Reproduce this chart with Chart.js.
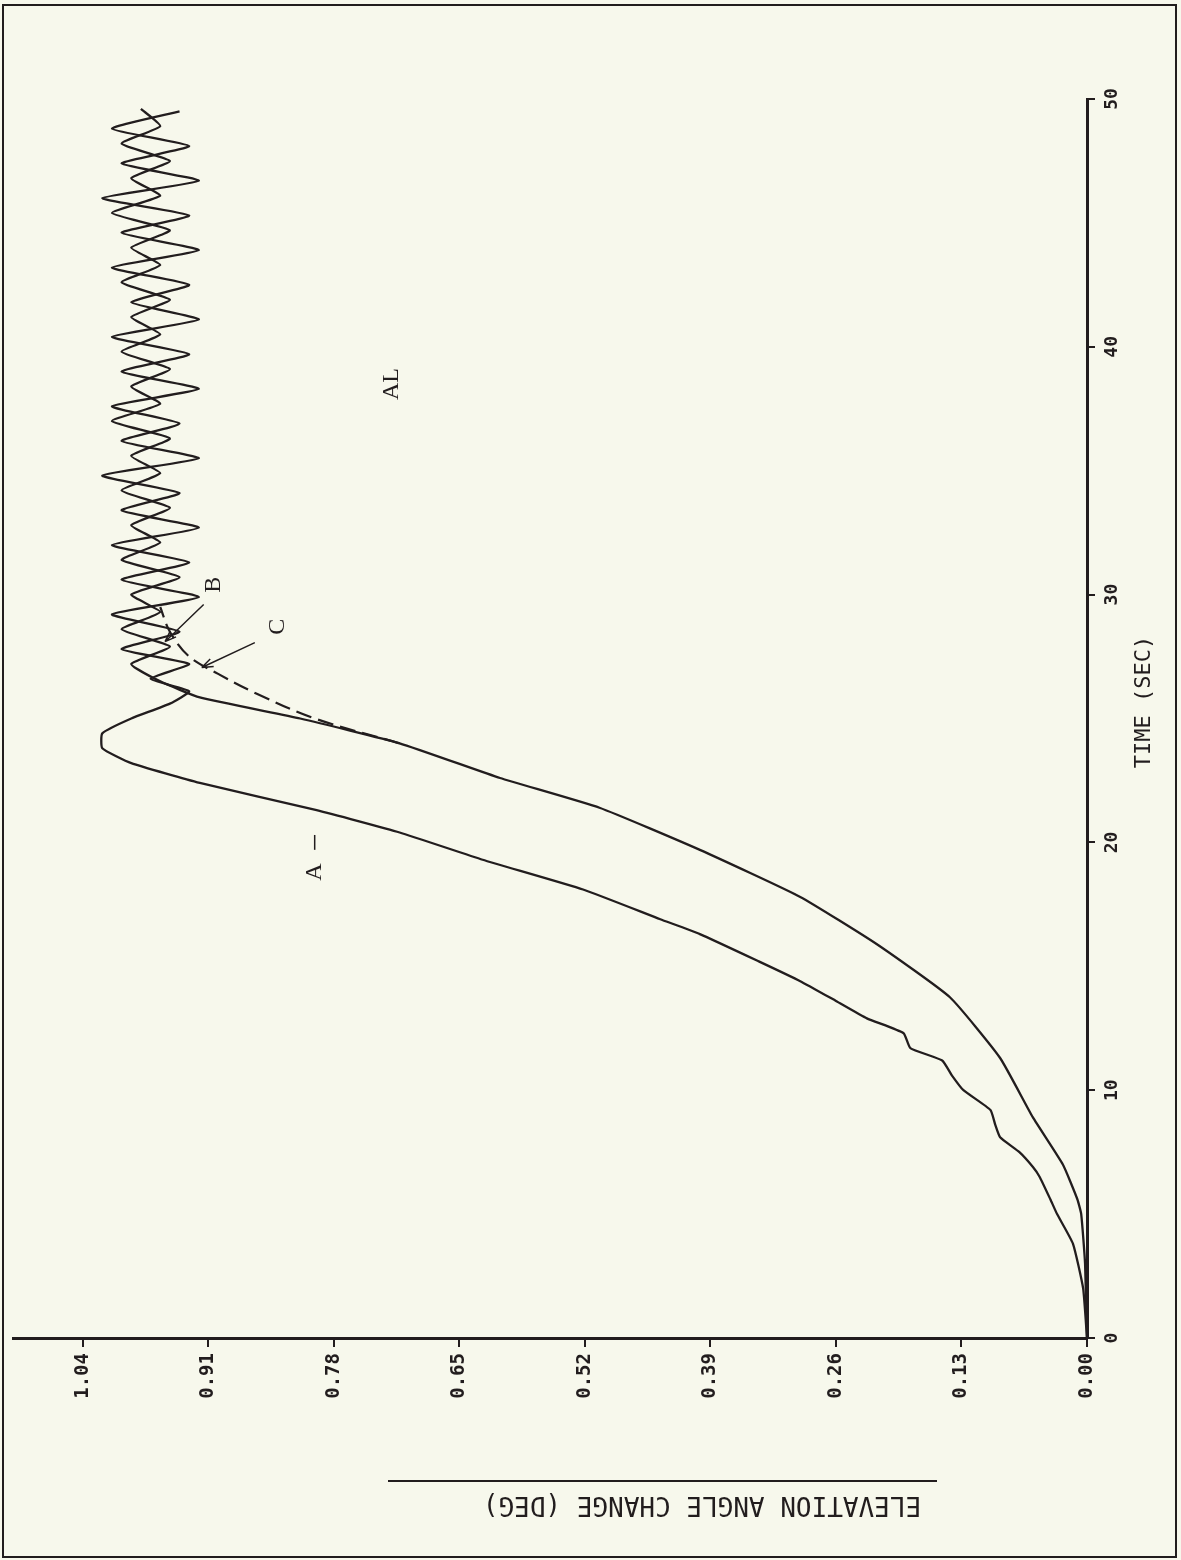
<!DOCTYPE html>
<html>
<head>
<meta charset="utf-8">
<script src="https://cdn.jsdelivr.net/npm/chart.js@4.4.1/dist/chart.umd.min.js"></script>
<style>
  html, body { margin: 0; padding: 0; background: #f7f8ec; }
  #wrap { width: 1181px; height: 1560px; position: relative; }
</style>
</head>
<body>
<div id="wrap"><canvas id="chart" width="1181" height="1560"></canvas></div>
<script>
// elevation angle change (deg) vs time (sec), plot is printed turned on its side
const valueTicks = [0, 0.13, 0.26, 0.39, 0.52, 0.65, 0.78, 0.91, 1.04];
const timeTicks = [0, 10, 20, 30, 40, 50];

// curve A (wavy, solid)
const timeA = [0, 2, 3.8, 5, 5.6, 6.5, 6.9, 7.5, 8.1, 8.6, 9.2, 10, 10.6, 11.2, 11.7, 12.3, 12.9, 13.6, 14.4, 15.2, 16.3, 16.9, 18.1, 19.3, 20.4, 21.3, 22.4, 23.2, 23.8, 24.4, 25, 25.6, 26.1, 26.6, 27.2, 27.8, 28.5, 29.2, 29.9, 30.6, 31.3, 32, 32.7, 33.4, 34.1, 34.8, 35.5, 36.2, 36.9, 37.6, 38.3, 39, 39.7, 40.4, 41.1, 41.8, 42.5, 43.2, 43.9, 44.6, 45.3, 46, 46.7, 47.4, 48.1, 48.8, 49.5];
const valA = [0, 0.004, 0.0145, 0.031, 0.038, 0.049, 0.056, 0.07, 0.09, 0.095, 0.1, 0.128, 0.14, 0.15, 0.183, 0.19, 0.228, 0.26, 0.297, 0.34, 0.401, 0.442, 0.522, 0.626, 0.712, 0.798, 0.919, 0.99, 1.02, 1.02, 0.99, 0.95, 0.93, 0.97, 0.93, 1.0, 0.94, 1.01, 0.92, 1.0, 0.93, 1.01, 0.92, 1.0, 0.94, 1.02, 0.92, 1.0, 0.94, 1.01, 0.92, 1.0, 0.93, 1.01, 0.92, 0.99, 0.93, 1.01, 0.92, 1.0, 0.93, 1.02, 0.92, 1.0, 0.93, 1.01, 0.94];

// curve B (smooth rise, solid)
const timeB = [0, 3, 5, 5.6, 7, 8.9, 11.3, 13.75, 15.9, 17.8, 19.7, 21.4, 22.6, 24, 25, 25.85, 26.5, 27.2, 27.9, 28.6, 29.3, 30, 30.7, 31.4, 32.1, 32.8, 33.5, 34.2, 34.9, 35.6, 36.3, 37, 37.7, 38.4, 39.1, 39.8, 40.5, 41.2, 41.9, 42.6, 43.3, 44, 44.7, 45.4, 46.1, 46.8, 47.5, 48.2, 48.9, 49.6];
const valB = [0, 0.002, 0.006, 0.01, 0.025, 0.056, 0.09, 0.142, 0.218, 0.297, 0.401, 0.505, 0.608, 0.712, 0.815, 0.919, 0.96, 0.99, 0.95, 1.0, 0.96, 0.99, 0.94, 1.0, 0.96, 0.99, 0.95, 1.0, 0.96, 0.99, 0.95, 1.01, 0.96, 0.99, 0.95, 1.0, 0.96, 0.99, 0.95, 1.0, 0.96, 0.99, 0.95, 1.01, 0.96, 0.99, 0.95, 1.0, 0.96, 0.98];

// curve C (dashed, no overshoot)
const timeC = [24, 25, 26, 26.8, 27.5, 28.5, 29.5];
const valC = [0.712, 0.80, 0.86, 0.90, 0.93, 0.95, 0.96];

function pts(ts, vs) {
  return ts.map((t, i) => ({ x: vs[i], y: t }));
}

const ink = '#221d1e';

const sidePlugin = {
  id: 'side',
  afterDraw(chart) {
    const ctx = chart.ctx;
    const xs = chart.scales.x;
    const ys = chart.scales.y;
    ctx.save();
    ctx.strokeStyle = ink;
    ctx.fillStyle = ink;
    // page frame
    ctx.lineWidth = 2;
    ctx.strokeRect(3, 5, 1173, 1552);

    // time axis title, turned
    ctx.save();
    ctx.translate(1144, 702);
    ctx.rotate(-Math.PI / 2);
    ctx.font = '22px "DejaVu Sans Mono"';
    ctx.textAlign = 'center';
    ctx.textBaseline = 'middle';
    ctx.fillText('TIME (SEC)', 0, 0);
    ctx.restore();

    // value axis title, upside down with a rule over it
    ctx.save();
    ctx.translate(702, 1504);
    ctx.rotate(Math.PI);
    ctx.font = '26px "DejaVu Sans Mono"';
    ctx.textAlign = 'center';
    ctx.textBaseline = 'middle';
    ctx.fillText('ELEVATION ANGLE CHANGE (DEG)', 0, 0);
    ctx.restore();
    ctx.lineWidth = 2;
    ctx.beginPath();
    ctx.moveTo(388, 1481);
    ctx.lineTo(937, 1481);
    ctx.stroke();

    // curve labels
    const labels = [
      ['A', 0.80, 18.8],
      ['C', 0.838, 28.7],
      ['B', 0.905, 30.4],
      ['AL', 0.72, 38.5]
    ];
    ctx.font = '24px "Liberation Serif"';
    ctx.textAlign = 'center';
    ctx.textBaseline = 'middle';
    labels.forEach(l => {
      ctx.save();
      ctx.translate(xs.getPixelForValue(l[1]), ys.getPixelForValue(l[2]));
      ctx.rotate(-Math.PI / 2);
      ctx.fillText(l[0], 0, 0);
      ctx.restore();
    });

    // small dash between label A and its curve
    ctx.lineWidth = 1.5;
    ctx.beginPath();
    ctx.moveTo(xs.getPixelForValue(0.80), ys.getPixelForValue(20.3));
    ctx.lineTo(xs.getPixelForValue(0.80), ys.getPixelForValue(19.7));
    ctx.stroke();

    // arrows for B and C
    const arrows = [
      [0.862, 28.06, 0.917, 27.06],
      [0.915, 29.6, 0.955, 28.1]
    ];
    arrows.forEach(a => {
      const x1 = xs.getPixelForValue(a[0]), y1 = ys.getPixelForValue(a[1]);
      const x2 = xs.getPixelForValue(a[2]), y2 = ys.getPixelForValue(a[3]);
      ctx.beginPath();
      ctx.moveTo(x1, y1);
      ctx.lineTo(x2, y2);
      const ang = Math.atan2(y2 - y1, x2 - x1);
      ctx.moveTo(x2, y2);
      ctx.lineTo(x2 - 12 * Math.cos(ang - 0.35), y2 - 12 * Math.sin(ang - 0.35));
      ctx.moveTo(x2, y2);
      ctx.lineTo(x2 - 12 * Math.cos(ang + 0.35), y2 - 12 * Math.sin(ang + 0.35));
      ctx.stroke();
    });
    ctx.restore();
  }
};

new Chart(document.getElementById('chart'), {
  type: 'scatter',
  data: {
    datasets: [
      { label: 'A', data: pts(timeA, valA), showLine: true, borderColor: ink, borderWidth: 2.3, pointRadius: 0, tension: 0.15, clip: false },
      { label: 'B', data: pts(timeB, valB), showLine: true, borderColor: ink, borderWidth: 2.3, pointRadius: 0, tension: 0.15, clip: false },
      { label: 'C', data: pts(timeC, valC), showLine: true, borderColor: ink, borderWidth: 2.2, borderDash: [16, 7], pointRadius: 0, tension: 0.35, clip: false }
    ]
  },
  options: {
    responsive: false,
    animation: false,
    layout: { padding: { left: 13, top: 99, right: 0, bottom: 0 } },
    plugins: { legend: { display: false }, tooltip: { enabled: false }, title: { display: false } },
    scales: {
      x: {
        type: 'linear',
        reverse: true,
        min: 0,
        max: 1.1125,
        afterBuildTicks: s => { s.ticks = valueTicks.map(v => ({ value: v })); },
        afterFit: s => { s.height = 222; },
        grid: { display: true, drawOnChartArea: false, drawTicks: true, tickLength: 9, color: ink, lineWidth: 2 },
        border: { display: true, color: ink, width: 3 },
        ticks: {
          minRotation: 90, maxRotation: 90, padding: 6, color: ink,
          font: { family: 'DejaVu Sans Mono', size: 19, weight: 'bold' },
          callback: v => Number(v).toFixed(2)
        }
      },
      y: {
        type: 'linear',
        position: 'right',
        min: 0,
        max: 50,
        afterBuildTicks: s => { s.ticks = timeTicks.map(v => ({ value: v })); },
        afterFit: s => { s.width = 94; },
        grid: { display: true, drawOnChartArea: false, drawTicks: true, tickLength: 8, color: ink, lineWidth: 2 },
        border: { display: true, color: ink, width: 3 },
        ticks: {
          minRotation: 90, maxRotation: 90, padding: 6, crossAlign: 'center', color: ink,
          font: { family: 'DejaVu Sans Mono', size: 18, weight: 'bold' }
        }
      }
    }
  },
  plugins: [sidePlugin]
});
</script>
</body>
</html>
